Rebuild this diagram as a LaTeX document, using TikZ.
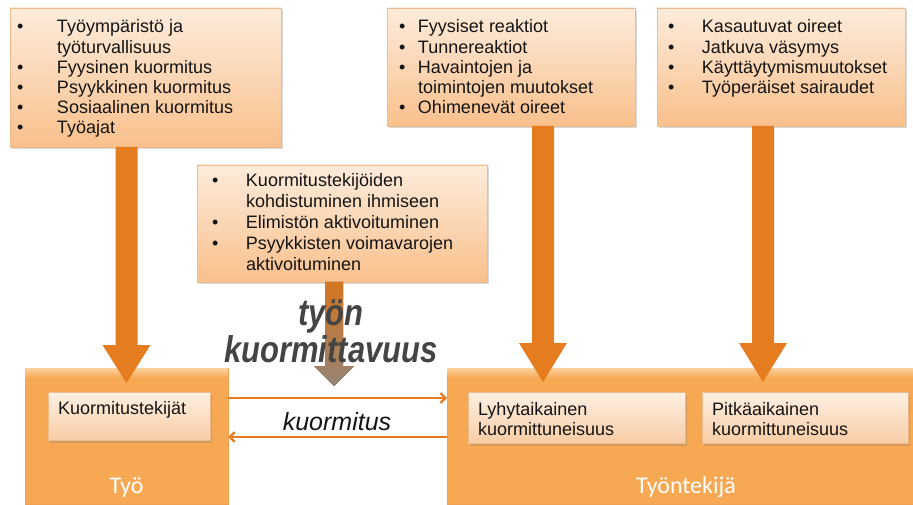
\documentclass[tikz,border=0pt]{standalone}
\usepackage{fontspec}
\setmainfont{Liberation Sans}
\newfontfamily\calib{Carlito}
\usetikzlibrary{calc,shadows,arrows.meta}
\definecolor{boxtop}{RGB}{253,236,220}
\definecolor{boxbot}{RGB}{249,192,140}
\definecolor{boxline}{RGB}{238,188,140}
\definecolor{ibtop}{RGB}{253,240,228}
\definecolor{ibbot}{RGB}{249,205,165}
\definecolor{arr}{RGB}{229,125,32}
\definecolor{arrgray}{RGB}{160,140,125}
\definecolor{big}{RGB}{247,168,82}
\definecolor{bigtop}{RGB}{251,210,160}
\definecolor{bigline}{RGB}{240,160,80}
\definecolor{txt}{RGB}{20,20,20}
\definecolor{bigtxt}{RGB}{68,68,68}
\newcommand\barrow[6]{% style, start, tip, shaft half, head half, head height
  \fill[#1] ($(#2)+(-#4,0)$) -- ($(#2)+(#4,0)$) -- ($(#3)+(#4,#6)$) -- ($(#3)+(#5,#6)$)
    -- (#3) -- ($(#3)+(-#5,#6)$) -- ($(#3)+(-#4,#6)$) -- cycle;}
\begin{document}
\begin{tikzpicture}[x=1pt,y=1pt,
  every node/.style={inner sep=0,outer sep=0},
  tbox/.style={draw=boxline,line width=0.5pt,top color=boxtop,bottom color=boxbot,
    anchor=north west,drop shadow={shadow xshift=1.5pt,shadow yshift=-2.5pt,opacity=0.3}},
  ibox/.style={tbox,top color=ibtop,bottom color=ibbot},
  bigbox/.style={draw=bigline,line width=0.5pt,fill=big,anchor=south west},
  btext/.style={anchor=base west,text=txt,font=\fontsize{18}{20.2}\selectfont},
  mtext/.style={anchor=base west,text=txt,font=\fontsize{18}{21}\selectfont},
  itext/.style={anchor=base west,text=txt,align=left,font=\fontsize{18}{20}\selectfont},
  harrow/.style={draw=arr,line width=2.3pt,-{Straight Barb[length=5pt,width=10pt]}},
  arrowfill/.style={fill=arr},
  biglabel/.style={anchor=base,text=white,font=\calib\fontsize{24}{28}\selectfont}]
\useasboundingbox (0,0) rectangle (913,504);

% big boxes
\node[bigbox,minimum width=203,minimum height=136] (tyo) at (25,0) {};
\node[bigbox,minimum width=466,minimum height=136] (wk) at (447,0) {};
\fill[top color=bigtop,bottom color=big] (tyo.north west) rectangle ($(tyo.north east)+(0,-10)$);
\fill[top color=bigtop,bottom color=big] (wk.north west) rectangle ($(wk.north east)+(0,-10)$);

% top boxes
\node[tbox,minimum width=271,minimum height=139] (b1) at (10,496) {};
\node[tbox,minimum width=248,minimum height=118] (b2) at (387,496) {};
\node[tbox,minimum width=248,minimum height=118] (b3) at (657,496) {};
\node[tbox,minimum width=290,minimum height=117] (mid) at (197,339) {};

\node[btext] (t1) at (17,471) {\begin{tabular}[t]{@{}p{40pt}@{}l@{}}
\textbullet & Työympäristö ja\\ & työturvallisuus\\
\textbullet & Fyysinen kuormitus\\ \textbullet & Psyykkinen kuormitus\\
\textbullet & Sosiaalinen kuormitus\\ \textbullet & Työajat\end{tabular}};
\node[btext] (t2) at (399,471) {\begin{tabular}[t]{@{}p{19pt}@{}l@{}}
\textbullet & Fyysiset reaktiot\\ \textbullet & Tunnereaktiot\\
\textbullet & Havaintojen ja\\ & toimintojen muutokset\\
\textbullet & Ohimenevät oireet\end{tabular}};
\node[btext] (t3) at (668,471) {\begin{tabular}[t]{@{}p{34pt}@{}l@{}}
\textbullet & Kasautuvat oireet\\ \textbullet & Jatkuva väsymys\\
\textbullet & Käyttäytymismuutokset\\ \textbullet & Työperäiset sairaudet\end{tabular}};
\node[mtext] (t4) at (212,317) {\begin{tabular}[t]{@{}p{34pt}@{}l@{}}
\textbullet & Kuormitustekijöiden\\ & kohdistuminen ihmiseen\\
\textbullet & Elimistön aktivoituminen\\ \textbullet & Psyykkisten voimavarojen\\
& aktivoituminen\end{tabular}};

% vertical block arrows
\coordinate (a1s) at (tyo.north |- b1.south);
\coordinate (a1e) at ($(tyo.north)+(0,-15)$);
\barrow{arrowfill}{a1s}{a1e}{11}{24}{38}
\coordinate (a2s) at ($(b2.south)+(32,0)$);
\coordinate (a2e) at ($(a2s |- wk.north)+(0,-14)$);
\barrow{arrowfill}{a2s}{a2e}{11}{24}{39}
\coordinate (a3s) at ($(b3.south)+(-18,0)$);
\coordinate (a3e) at ($(a3s |- wk.north)+(0,-14)$);
\barrow{arrowfill}{a3s}{a3e}{11}{24}{39}
\coordinate (a4s) at ($(mid.south)+(-8,0)$);
\coordinate (a4e) at ($(a4s |- tyo.north)+(0,-18)$);
\barrow{top color=arr,bottom color=arrgray,opacity=0.92}{a4s}{a4e}{9}{20}{20}

% inner boxes
\node[ibox,minimum width=162,minimum height=48] (kt) at (48,112) {};
\node[ibox,minimum width=217,minimum height=51] (ly) at (468,112) {};
\node[ibox,minimum width=206,minimum height=51] (pi) at (702,112) {};
\node[itext,font=\fontsize{18}{20}\selectfont] (ktt) at (58,90) {Kuormitustekijät};
\node[itext] (lyt) at (478,69) {Lyhytaikainen\\kuormittuneisuus};
\node[itext] (pit) at (712,69) {Pitkäaikainen\\kuormittuneisuus};

% horizontal arrows
\coordinate (h1) at (0,106);
\coordinate (h2) at (0,67);
\draw[harrow] (tyo.east |- h1) -- (wk.west |- h1);
\draw[harrow] (wk.west |- h2) -- (tyo.east |- h2);
\node[anchor=base,text=txt,font=\fontsize{25}{30}\selectfont\itshape] (kl) at (337,74) {kuormitus};

% bold labels
\node[anchor=base,text=bigtxt,font=\fontsize{31}{36}\selectfont\bfseries\itshape] (tk1) at (331,179) {\scalebox{1}[1.2]{työn}};
\node[anchor=base,text=bigtxt,font=\fontsize{31}{36}\selectfont\bfseries\itshape] (tk2) at (331,142) {\scalebox{1}[1.2]{kuormittavuus}};

\node[biglabel] (tyol) at (126.5,11) {Työ};
\node[biglabel] (wkl) at (686,11) {Työntekijä};
\end{tikzpicture}
\end{document}
